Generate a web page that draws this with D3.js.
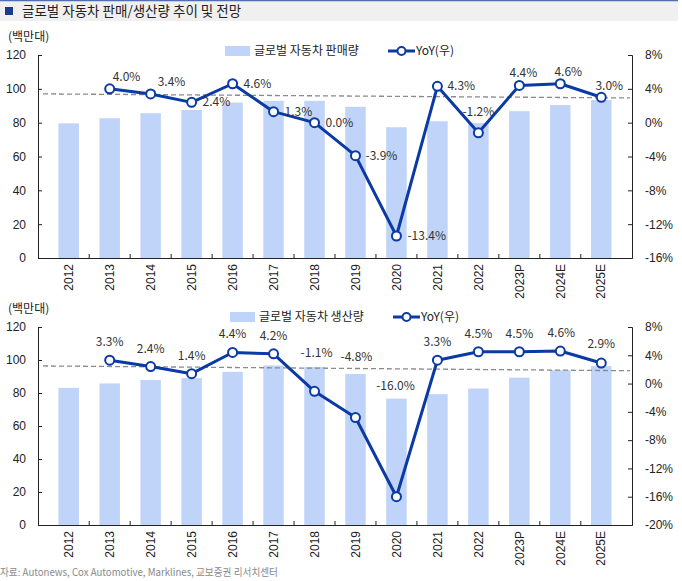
<!DOCTYPE html>
<html>
<head>
<meta charset="utf-8">
<script src="https://cdn.jsdelivr.net/npm/d3@7"></script>
<style>
  body { margin: 0; background: #fff; }
  svg { display: block; font-family: "Noto Sans CJK KR", "Noto Sans", sans-serif; }
  .axis path, .axis line { stroke: #222; }
  .axis text { fill: #222; font-size: 12px; }
</style>
</head>
<body>
<svg id="chart" width="682" height="581"></svg>
<script>
// ---- data ----
const years = ["2012", "2013", "2014", "2015", "2016", "2017", "2018", "2019", "2020", "2021", "2022", "2023P", "2024E", "2025E"];

const salesVol = [79.6, 82.6, 85.6, 87.5, 91.9, 92.9, 92.9, 89.4, 77.3, 80.8, 79.7, 86.8, 90.4, 93.4];
const salesYoY = [null, 4.0, 3.4, 2.4, 4.6, 1.3, 0.0, -3.9, -13.4, 4.3, -1.2, 4.4, 4.6, 3.0];

const prodVol = [83.1, 85.8, 87.9, 89.0, 92.8, 96.7, 95.8, 91.5, 76.6, 79.3, 82.7, 89.3, 93.8, 96.3];
const prodYoY = [null, 3.3, 2.4, 1.4, 4.4, 4.2, -1.1, -4.8, -16.0, 3.3, 4.5, 4.5, 4.6, 2.9];

const leftTicks = [0, 20, 40, 60, 80, 100, 120];
const salesRightTicks = [-16, -12, -8, -4, 0, 4, 8];
const prodRightTicks = [-20, -16, -12, -8, -4, 0, 4, 8];

// trend (dashed) line end values on the left axis
const salesTrend = [97.0, 94.6];
const prodTrend = [96.4, 93.5];

// ---- layout ----
const X0 = 38, X1 = 632;
const BAR = "#c0d3f8";
const LINE = "#0b3aa5";

const svg = d3.select("#chart");

// title bar
svg.append("rect").attr("x", 0).attr("y", 0).attr("width", 678).attr("height", 21).attr("fill", "#f0f0f0");
svg.append("line").attr("x1", 0).attr("x2", 678).attr("y1", 0.5).attr("y2", 0.5).attr("stroke", "#4f6fae").attr("stroke-width", 1.5);
svg.append("rect").attr("x", 5).attr("y", 7).attr("width", 8).attr("height", 8).attr("fill", "#1a3a8c");
svg.append("text").attr("x", 22).attr("y", 16).attr("font-size", 13.5).attr("fill", "#222")
  .text("글로벌 자동차 판매/생산량 추이 및 전망");

// label offsets [dx, dy, anchor] relative to the marker
const salesLabelPos = {
  1: [3, -8, "start"], 2: [7, -8, "start"], 3: [11, 4, "start"], 4: [11, 4, "start"],
  5: [11, 4, "start"], 6: [11, 4, "start"], 7: [10, 4, "start"], 8: [11, 4, "start"],
  9: [10, 4, "start"], 10: [0, -17, "middle"], 11: [4, -8, "middle"], 12: [8, -8, "middle"], 13: [8, -7, "middle"],
};
const prodLabelPos = {
  1: [0, -14], 2: [0, -14], 3: [0, -14], 4: [0, -14], 5: [0, -14], 6: [2, -34], 7: [1, -57],
  8: [-1, -107], 9: [0, -14], 10: [0, -14], 11: [0, -14], 12: [1, -14], 13: [0, -15],
};

function panel(opt) {
  const x = d3.scaleBand().domain(years).range([X0, X1]).padding(0.5);
  const y = d3.scaleLinear().domain([0, 120]).range([opt.bottom, opt.top]);
  const y2 = d3.scaleLinear().domain(opt.rightDomain).range([opt.bottom, opt.top]);

  const g = svg.append("g");

  // unit
  g.append("text").attr("x", 8).attr("y", opt.top - 14).attr("font-size", 12).attr("fill", "#222").text("(백만대)");

  // legend
  const ly = opt.top - opt.legDy;
  g.append("rect").attr("x", opt.legX).attr("y", ly - 5).attr("width", 25).attr("height", 10).attr("fill", BAR);
  g.append("text").attr("x", opt.legX + 29).attr("y", ly + 4).attr("font-size", 12).attr("fill", "#222").text(opt.barName);
  const lx = opt.legX + 163;
  g.append("line").attr("x1", lx).attr("x2", lx + 27).attr("y1", ly).attr("y2", ly).attr("stroke", LINE).attr("stroke-width", 3);
  g.append("circle").attr("cx", lx + 13.5).attr("cy", ly).attr("r", 4).attr("fill", "#fff").attr("stroke", LINE).attr("stroke-width", 2);
  g.append("text").attr("x", lx + 28).attr("y", ly + 4).attr("font-size", 12).attr("fill", "#222").text("YoY(우)");

  // bars
  g.append("g").selectAll("rect").data(opt.vol).join("rect")
    .attr("x", (d, i) => x(years[i]))
    .attr("width", x.bandwidth())
    .attr("y", (d) => y(d))
    .attr("height", (d) => y(0) - y(d))
    .attr("fill", BAR);

  // dashed trend
  g.append("line")
    .attr("x1", X0 + 5).attr("x2", X1 - 2)
    .attr("y1", y(opt.trend[0])).attr("y2", y(opt.trend[1]))
    .attr("stroke", "#8a8a8a").attr("stroke-width", 1.3).attr("stroke-dasharray", "5,3");

  // axes
  g.append("g").attr("class", "axis").attr("transform", `translate(${X0},0)`)
    .call(d3.axisLeft(y).tickValues(leftTicks).tickSizeInner(-4).tickSizeOuter(-4).tickPadding(12));
  g.append("g").attr("class", "axis").attr("transform", `translate(${X1},0)`)
    .call(d3.axisRight(y2).tickValues(opt.rightTicks).tickSizeInner(-4).tickSizeOuter(-4).tickPadding(13).tickFormat((d) => d + "%"));

  const xa = g.append("g").attr("class", "axis").attr("transform", `translate(0,${opt.bottom})`)
    .call(d3.axisBottom(x).tickSize(0).tickSizeOuter(0));
  xa.selectAll("text")
    .attr("transform", "rotate(-90)")
    .attr("x", -6).attr("y", 0).attr("dy", "0.35em")
    .attr("text-anchor", "end");
  // tick marks sit between categories
  const gap = (x.step() - x.bandwidth()) / 2;
  xa.selectAll(".bnd").data(years.slice(1)).join("line")
    .attr("class", "bnd")
    .attr("x1", (d) => x(d) - gap).attr("x2", (d) => x(d) - gap)
    .attr("y1", 0).attr("y2", -4);

  // YoY line
  const pts = opt.yoy.map((v, i) => ({ v, i })).filter((d) => d.v !== null);
  const cx = (d) => x(years[d.i]) + x.bandwidth() / 2;
  g.append("path").datum(pts)
    .attr("d", d3.line().x(cx).y((d) => y2(d.v)))
    .attr("fill", "none").attr("stroke", LINE).attr("stroke-width", 3).attr("stroke-linejoin", "round");
  g.append("g").selectAll("circle").data(pts).join("circle")
    .attr("cx", cx).attr("cy", (d) => y2(d.v)).attr("r", 4.5)
    .attr("fill", "#fff").attr("stroke", LINE).attr("stroke-width", 2);

  g.append("g").selectAll("text").data(pts).join("text")
    .attr("x", (d) => cx(d) + opt.labelPos[d.i][0])
    .attr("y", (d) => y2(d.v) + opt.labelPos[d.i][1])
    .attr("text-anchor", (d) => opt.labelPos[d.i][2] || "middle")
    .attr("font-size", 12).attr("fill", "#333")
    .text((d) => d.v.toFixed(1) + "%");
}

panel({
  top: 55, bottom: 258, rightDomain: [-16, 8], rightTicks: salesRightTicks,
  vol: salesVol, yoy: salesYoY, trend: salesTrend, labelPos: salesLabelPos,
  barName: "글로벌 자동차 판매량", legX: 225, legDy: 4,
});
panel({
  top: 327, bottom: 525, rightDomain: [-20, 8], rightTicks: prodRightTicks,
  vol: prodVol, yoy: prodYoY, trend: prodTrend, labelPos: prodLabelPos,
  barName: "글로벌 자동차 생산량", legX: 230, legDy: 10,
});

// source
svg.append("text").attr("x", 0).attr("y", 576).attr("font-size", 10).attr("fill", "#8a8a8a")
  .attr("textLength", 278).attr("lengthAdjust", "spacingAndGlyphs")
  .text("자료: Autonews, Cox Automotive, Marklines, 교보증권 리서치센터");
</script>
</body>
</html>
